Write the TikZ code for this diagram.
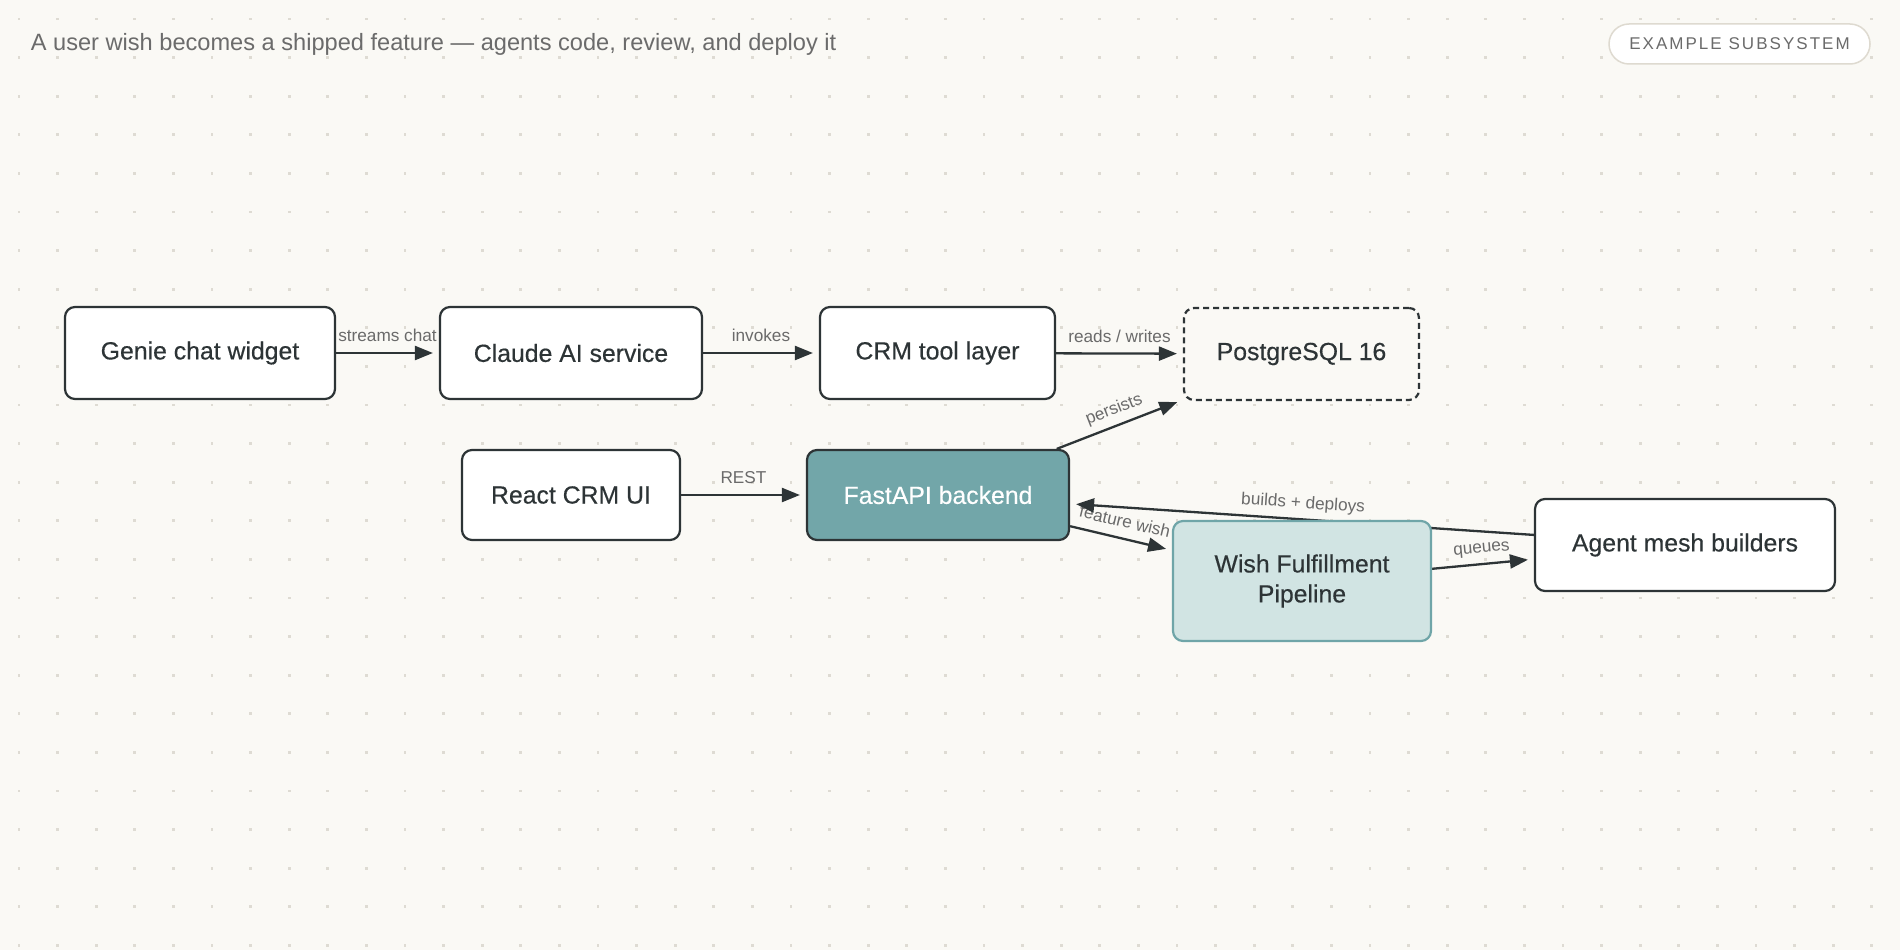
\documentclass[tikz,border=0pt]{standalone}
\usepackage{fontspec}
\setmainfont{Liberation Sans}
\newfontfamily\badgefont[LetterSpace=12]{Liberation Sans}
\newfontfamily\nodefont[FakeBold=0.4]{Liberation Sans}
\usetikzlibrary{arrows.meta}
\definecolor{bgc}{HTML}{FAF9F5}
\definecolor{dotc}{HTML}{DEDBD3}
\definecolor{ink}{HTML}{2D3436}
\definecolor{titlec}{HTML}{6B6B6B}
\definecolor{lblc}{HTML}{6A6A6A}
\definecolor{badgeb}{HTML}{DEDAD0}
\definecolor{tealA}{HTML}{72A6A9}
\definecolor{tealB}{HTML}{D1E4E3}
\definecolor{tealC}{HTML}{6FA5A8}
\pgfdeclarelayer{bg}
\pgfdeclarelayer{edges}
\pgfsetlayers{bg,edges,main}
\tikzset{
  box/.style={draw=ink, line width=2.2pt, rounded corners=10pt, fill=white, text=ink,
    font=\nodefont\fontsize{24.8}{30}\selectfont, align=center, inner sep=0pt},
  conn/.style={draw=ink, line width=2.3pt, -{Triangle[length=18pt,width=14pt]}, shorten >=6pt},
  lbl/.style={font=\fontsize{17.2}{18}\selectfont, text=lblc, inner sep=2pt, text height=12pt, text depth=4pt},
}
\begin{document}
\begin{tikzpicture}[x=1pt,y=-1pt]
\useasboundingbox (0,0) rectangle (1900,950);
\begin{pgfonlayer}{bg}
\fill[bgc] (0,0) rectangle (1900,950);
\foreach \i in {0,...,48}{\foreach \j in {0,...,24}{
  \fill[dotc] ({19+38.6*\i-1.4},{19+38.6*\j-1.4}) rectangle ({19+38.6*\i+1.4},{19+38.6*\j+1.4});}}
\end{pgfonlayer}

\node[anchor=base west, font=\fontsize{23.6}{24}\selectfont, text=titlec, inner sep=0pt] (title) at (30.7,50.7)
  {A user wish becomes a shipped feature — agents code, review, and deploy it};
\node[draw=badgeb, line width=1.5pt, fill=white, rounded corners=20pt, minimum width=261pt, minimum height=40pt,
  inner sep=0pt, text=titlec, font=\badgefont\fontsize{17}{17}\selectfont] (badge) at (1739.5,44) {EXAMPLE SUBSYSTEM};

\node[box, minimum width=270pt, minimum height=92pt] (genie) at (200,353) {Genie chat widget};
\node[box, minimum width=262pt, minimum height=92pt] (claude) at (571,353) {Claude AI service};
\node[box, minimum width=235pt, minimum height=92pt] (crm) at (937.5,353) {CRM tool layer};
\node[box, dash pattern=on 6pt off 4pt, fill=bgc, minimum width=235pt, minimum height=92pt] (pg) at (1301.5,354) {PostgreSQL 16};
\node[box, minimum width=218pt, minimum height=90pt] (react) at (571,495) {React CRM UI};
\node[box, fill=tealA, text=white, minimum width=262pt, minimum height=90pt] (api) at (938,495) {FastAPI backend};
\node[box, fill=tealB, draw=tealC, minimum width=258pt, minimum height=120pt] (wish) at (1302,581) {Wish Fulfillment\\Pipeline};
\node[box, minimum width=300pt, minimum height=92pt] (agent) at (1685,545) {Agent mesh builders};

\begin{pgfonlayer}{edges}
\draw[conn] (genie) -- node[lbl, above=4pt] {streams chat} (claude);
\draw[conn] (claude) -- node[lbl, above=4pt] {invokes} (crm);
\draw[conn] (crm) -- node[lbl, above=4pt] {reads / writes} (pg);
\draw[conn] (react) -- node[lbl, above=4pt] {REST} (api);
\draw[conn] (api) -- node[lbl, sloped, above=4pt] {persists} (pg);
\draw[conn] (api) -- node[lbl, sloped, above=4pt] {feature wish} (wish);
\draw[conn] (agent) -- node[lbl, sloped, above=4pt] {builds + deploys} (api);
\draw[conn] (wish) -- node[lbl, sloped, above=4pt] {queues} (agent);
\end{pgfonlayer}
\end{tikzpicture}
\end{document}
